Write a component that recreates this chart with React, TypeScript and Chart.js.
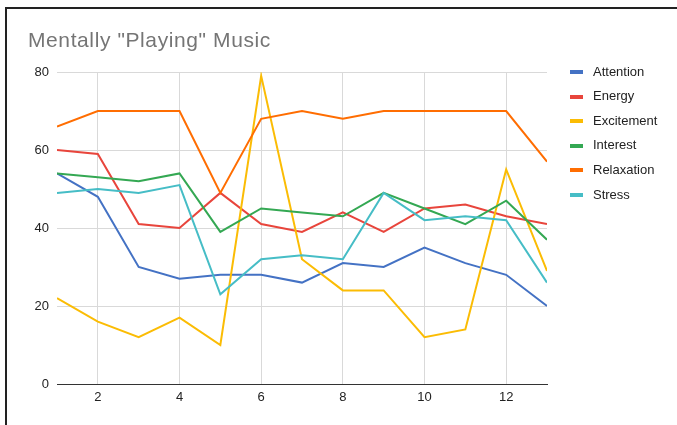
import { useEffect, useRef } from "react";
import { Chart, registerables } from "chart.js";

Chart.register(...registerables);

// Session numbers along the x axis
const sessions = [1, 2, 3, 4, 5, 6, 7, 8, 9, 10, 11, 12, 13];
const xTickValues = [2, 4, 6, 8, 10, 12];

const attention = [54, 48, 30, 27, 28, 28, 26, 31, 30, 35, 31, 28, 20];
const energy = [60, 59, 41, 40, 49, 41, 39, 44, 39, 45, 46, 43, 41];
const excitement = [22, 16, 12, 17, 10, 79, 32, 24, 24, 12, 14, 55, 29];
const interest = [54, 53, 52, 54, 39, 45, 44, 43, 49, 45, 41, 47, 37];
const relaxation = [66, 70, 70, 70, 49, 68, 70, 68, 70, 70, 70, 70, 57];
const stress = [49, 50, 49, 51, 23, 32, 33, 32, 49, 42, 43, 42, 26];

const seriesNames = ["Attention", "Energy", "Excitement", "Interest", "Relaxation", "Stress"];
const seriesValues = [attention, energy, excitement, interest, relaxation, stress];
const seriesColors = ["#4472c4", "#e8453c", "#fbbc04", "#34a853", "#ff6d01", "#46bdc6"];

const chartTitle = 'Mentally "Playing" Music';

const W = 677;
const H = 425;
const FONT = "'Liberation Sans', Arial, sans-serif";

// Frame, title and legend painted over the plot
const decorations = {
  id: "decorations",
  beforeDraw(chart: any) {
    const ctx = chart.ctx;
    ctx.save();
    ctx.fillStyle = "#ffffff";
    ctx.fillRect(0, 0, chart.width, chart.height);
    ctx.restore();
  },
  afterDraw(chart: any) {
    const ctx = chart.ctx;
    ctx.save();
    ctx.fillStyle = "#222222";
    ctx.fillRect(5, 7, chart.width - 5, 2);
    ctx.fillRect(5, 7, 2, chart.height - 7);

    ctx.font = `21px ${FONT}`;
    ctx.fillStyle = "#757575";
    ctx.textBaseline = "alphabetic";
    ctx.textAlign = "left";
    (ctx as any).letterSpacing = "0.6px";
    ctx.fillText(chartTitle, 28, 47);
    (ctx as any).letterSpacing = "0px";

    ctx.font = `13px ${FONT}`;
    ctx.textBaseline = "middle";
    chart.data.datasets.forEach((ds: any, i: number) => {
      const y = 72 + i * 24.6;
      ctx.fillStyle = ds.borderColor;
      ctx.fillRect(570, Math.round(y) - 2, 13, 4);
      ctx.fillStyle = "#222222";
      ctx.fillText(ds.label, 593, y);
    });
    ctx.restore();
  },
};

export default function App() {
  const canvasRef = useRef<HTMLCanvasElement | null>(null);

  useEffect(() => {
    const canvas = canvasRef.current;
    if (!canvas) return;
    const chart = new Chart(canvas, {
      type: "line",
      data: {
        datasets: seriesNames.map((name, i) => ({
          label: name,
          data: sessions.map((s, j) => ({ x: s, y: seriesValues[i][j] })),
          borderColor: seriesColors[i],
          backgroundColor: seriesColors[i],
          borderWidth: 2,
          pointRadius: 0,
          tension: 0,
          fill: false,
          order: seriesNames.length - i,
        })),
      },
      options: {
        animation: false,
        responsive: false,
        layout: { padding: { left: 0, top: 72, right: 130, bottom: 0 } },
        plugins: {
          legend: { display: false },
          title: { display: false },
          tooltip: { enabled: false },
        },
        scales: {
          x: {
            type: "linear",
            min: 1,
            max: 13,
            afterBuildTicks: (scale: any) => {
              scale.ticks = xTickValues.map((v) => ({ value: v }));
            },
            afterFit: (scale: any) => {
              scale.height = 41;
            },
            grid: { color: "#d9d9d9", lineWidth: 1, drawTicks: false },
            border: { display: true, color: "#333333", width: 1 },
            ticks: {
              padding: 6,
              color: "#222222",
              font: { family: FONT, size: 13 },
              maxRotation: 0,
            },
          },
          y: {
            min: 0,
            max: 80,
            afterFit: (scale: any) => {
              scale.width = 57;
            },
            grid: {
              color: (c: any) => (c.tick && c.tick.value === 0 ? "#333333" : "#d9d9d9"),
              lineWidth: 1,
              drawTicks: false,
            },
            border: { display: false },
            ticks: {
              stepSize: 20,
              padding: 8,
              color: "#222222",
              font: { family: FONT, size: 13 },
            },
          },
        },
      },
      plugins: [decorations],
    });
    return () => chart.destroy();
  }, []);

  return (
    <div style={{ position: "fixed", left: 0, top: 0, width: W, height: H, background: "#fff" }}>
      <canvas ref={canvasRef} width={W} height={H} style={{ display: "block" }} />
    </div>
  );
}
